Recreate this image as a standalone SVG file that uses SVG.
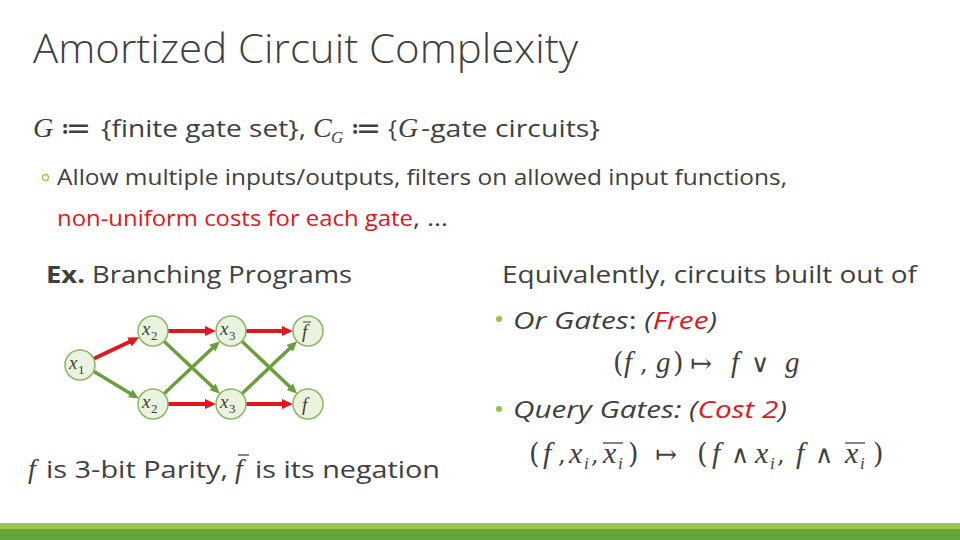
<svg xmlns="http://www.w3.org/2000/svg" width="960" height="540" viewBox="0 0 960 540">
<style>
text{fill:#404040;font-family:"Open Sans","Liberation Sans",sans-serif}
.title{font-size:40px;font-weight:300}
.b{font-size:24px}
.s{font-size:22px}
.red{fill:#e3161b}
.m{font-family:"Liberation Serif","DejaVu Serif",serif;font-style:italic}
.mr{font-family:"DejaVu Serif","Liberation Serif",serif;font-style:normal}
.it{font-style:italic}
.node circle{fill:#eaf3dd;stroke:#8cb56a;stroke-width:1.5}
.node text{font-family:"Liberation Serif",serif;font-style:italic;font-size:19px;fill:#404040}
.node text.sub{font-style:normal;font-size:13px}
.er{stroke:#e3161b;stroke-width:4;fill:none}
.eg{stroke:#6aa03c;stroke-width:3.5;fill:none}
.ov{stroke:#404040;stroke-width:1.3}
</style>
<defs>
<marker id="ar" markerUnits="userSpaceOnUse" markerWidth="13" markerHeight="11" refX="1" refY="5" orient="auto"><path d="M0,0 L11,5 L0,10 z" fill="#e3161b"/></marker>
<marker id="ag" markerUnits="userSpaceOnUse" markerWidth="12" markerHeight="10" refX="1" refY="4.5" orient="auto"><path d="M0,0 L10,4.5 L0,9 z" fill="#6aa03c"/></marker>
</defs>
<rect width="960" height="540" fill="#ffffff"/>
<text class="title" x="33" y="63" textLength="545" lengthAdjust="spacingAndGlyphs">Amortized Circuit Complexity</text>

<g id="line1">
<text class="m" x="33" y="137" font-size="28">G</text>
<text class="mr" x="60" y="138" font-size="30">≔</text>
<text class="b" x="101" y="137" font-size="25" textLength="205" lengthAdjust="spacingAndGlyphs">{finite gate set},</text>
<text class="m" x="313" y="137" font-size="28">C</text>
<text class="m" x="331" y="143" font-size="17">G</text>
<text class="mr" x="350" y="138" font-size="30">≔</text>
<text class="b" x="388" y="137" font-size="25">{</text>
<text class="m" x="398" y="137" font-size="28">G</text>
<text class="b" x="421" y="137" font-size="25" textLength="179" lengthAdjust="spacingAndGlyphs">-gate circuits}</text>
</g>

<circle cx="45.5" cy="177.5" r="3" fill="none" stroke="#9dc84e" stroke-width="1.3"/>
<text class="s" x="57" y="185" textLength="730" lengthAdjust="spacingAndGlyphs">Allow multiple inputs/outputs, filters on allowed input functions,</text>
<text class="s red" x="57" y="226" textLength="356" lengthAdjust="spacingAndGlyphs">non-uniform costs for each gate</text>
<text class="s" x="413" y="226" textLength="35" lengthAdjust="spacingAndGlyphs">, …</text>

<text class="b" x="46" y="283" textLength="306" lengthAdjust="spacingAndGlyphs"><tspan font-weight="bold">Ex.</tspan> Branching Programs</text>

<g id="connectors">
<line class="er" x1="93.6" y1="358.7" x2="130.3" y2="341.5" marker-end="url(#ar)"/>
<line class="eg" x1="93.6" y1="371.3" x2="131.2" y2="393.9" marker-end="url(#ag)"/>
<line class="er" x1="168" y1="331" x2="206" y2="331" marker-end="url(#ar)"/>
<line class="er" x1="168" y1="404" x2="206" y2="404" marker-end="url(#ar)"/>
<line class="eg" x1="164" y1="341.2" x2="213.4" y2="387.7" marker-end="url(#ag)"/>
<line class="eg" x1="164" y1="393.8" x2="213.4" y2="347.3" marker-end="url(#ag)"/>
<line class="er" x1="246" y1="331" x2="283" y2="331" marker-end="url(#ar)"/>
<line class="er" x1="246" y1="404" x2="283" y2="404" marker-end="url(#ar)"/>
<line class="eg" x1="241.9" y1="341.3" x2="290.6" y2="387.5" marker-end="url(#ag)"/>
<line class="eg" x1="241.9" y1="393.7" x2="290.6" y2="347.5" marker-end="url(#ag)"/>
</g>

<g id="n-x1" class="node"><circle cx="80" cy="365" r="15"/><text x="69" y="369">x</text><text class="sub" x="78" y="374">1</text></g>
<g id="n-x2a" class="node"><circle cx="153" cy="331" r="15"/><text x="142" y="335">x</text><text class="sub" x="151" y="340">2</text></g>
<g id="n-x2b" class="node"><circle cx="153" cy="404" r="15"/><text x="142" y="408">x</text><text class="sub" x="151" y="413">2</text></g>
<g id="n-x3a" class="node"><circle cx="231" cy="331" r="15"/><text x="220" y="335">x</text><text class="sub" x="229" y="340">3</text></g>
<g id="n-x3b" class="node"><circle cx="231" cy="404" r="15"/><text x="220" y="408">x</text><text class="sub" x="229" y="413">3</text></g>
<g id="n-fbar" class="node"><circle cx="308" cy="331" r="15"/><text x="302" y="338">f</text><line x1="303" y1="322" x2="311" y2="322" stroke="#404040" stroke-width="1"/></g>
<g id="n-f" class="node"><circle cx="308" cy="404" r="15"/><text x="302" y="411">f</text></g>

<g id="bottomline">
<text class="m" x="28" y="478" font-size="28">f</text>
<text class="b" x="46" y="478" textLength="182" lengthAdjust="spacingAndGlyphs"> is 3-bit Parity,</text>
<text class="m" x="235" y="478" font-size="28">f</text>
<line class="ov" x1="238" y1="455" x2="249" y2="455"/>
<text class="b" x="255" y="478" textLength="185" lengthAdjust="spacingAndGlyphs"> is its negation</text>
</g>

<text class="b" x="502" y="283" textLength="415" lengthAdjust="spacingAndGlyphs">Equivalently, circuits built out of</text>

<circle cx="499" cy="319" r="3" fill="#8dc63f"/>
<text class="b" x="513" y="329" font-size="27" textLength="204" lengthAdjust="spacingAndGlyphs"><tspan class="it">Or Gates</tspan>: <tspan class="it">(</tspan><tspan class="it red">Free</tspan><tspan class="it">)</tspan></text>

<g id="math1" font-size="29">
<text class="mr" x="613" y="372" font-size="27">(</text>
<text class="m" x="624" y="372">f</text>
<text class="mr" x="640" y="372" font-size="24">,</text>
<text class="m" x="656" y="372">g</text>
<text class="mr" x="673" y="372" font-size="27">)</text>
<text class="mr" x="690" y="372" font-size="26">↦</text>
<text class="m" x="731" y="372">f</text>
<text class="mr" x="751" y="372" font-size="25">∨</text>
<text class="m" x="785" y="372">g</text>
</g>

<circle cx="499" cy="409" r="3" fill="#8dc63f"/>
<text class="b" x="513" y="418" font-size="27" textLength="274" lengthAdjust="spacingAndGlyphs"><tspan class="it">Query Gates: (</tspan><tspan class="it red">Cost 2</tspan><tspan class="it">)</tspan></text>

<g id="math2" font-size="30">
<text class="mr" x="529" y="463" font-size="27">(</text>
<text class="m" x="543" y="463">f</text>
<text class="mr" x="558" y="463" font-size="24">,</text>
<text class="m" x="569" y="463">x</text>
<text class="m" x="584" y="469" font-size="17">i</text>
<text class="mr" x="591" y="463" font-size="24">,</text>
<text class="m" x="603" y="463">x</text>
<text class="m" x="618" y="469" font-size="17">i</text>
<line class="ov" x1="603" y1="443" x2="623" y2="443"/>
<text class="mr" x="628" y="463" font-size="27">)</text>
<text class="mr" x="655" y="463" font-size="26">↦</text>
<text class="mr" x="697" y="463" font-size="27">(</text>
<text class="m" x="712" y="463">f</text>
<text class="mr" x="731" y="463" font-size="25">∧</text>
<text class="m" x="755" y="463">x</text>
<text class="m" x="770" y="469" font-size="17">i</text>
<text class="mr" x="777" y="463" font-size="24">,</text>
<text class="m" x="796" y="463">f</text>
<text class="mr" x="815" y="463" font-size="25">∧</text>
<text class="m" x="845" y="463">x</text>
<text class="m" x="860" y="469" font-size="17">i</text>
<line class="ov" x1="845" y1="443" x2="865" y2="443"/>
<text class="mr" x="873" y="463" font-size="27">)</text>
</g>

<rect x="0" y="523" width="960" height="6" fill="#9dc84e"/>
<rect x="0" y="529" width="960" height="11" fill="#63a537"/>
</svg>
